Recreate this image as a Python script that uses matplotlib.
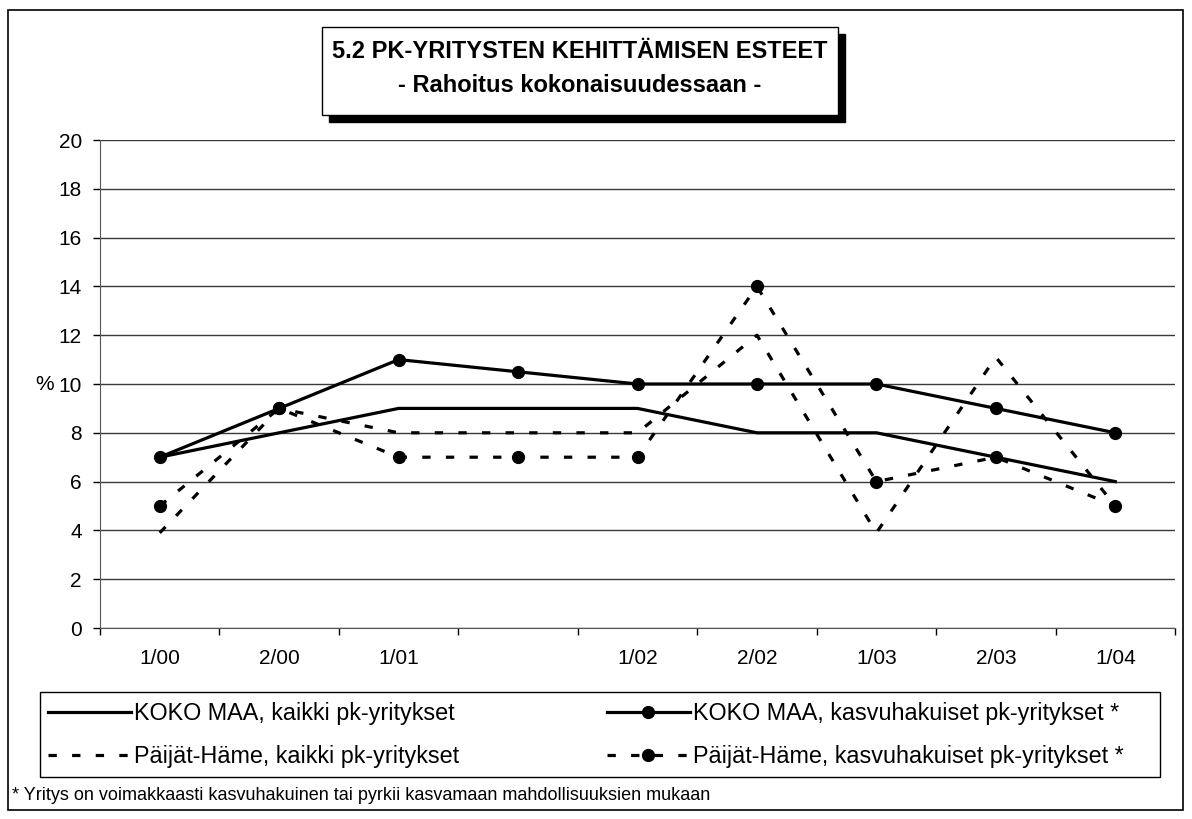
import matplotlib
matplotlib.use("Agg")
import matplotlib.pyplot as plt
from matplotlib.patches import Rectangle
from matplotlib.lines import Line2D

plt.rcParams['font.family'] = ['Liberation Sans', 'DejaVu Sans']
plt.rcParams['lines.scale_dashes'] = False

# Data
periods = ['1/00', '2/00', '1/01', '', '1/02', '2/02', '1/03', '2/03', '1/04']
koko_kaikki = [7, 8, 9, 9, 9, 8, 8, 7, 6]
koko_kasvu = [7, 9, 11, 10.5, 10, 10, 10, 9, 8]
ph_kaikki = [3.9, 9, 8, 8, 8, 12, 3.9, 11.1, 5]
ph_kasvu = [5, 9, 7, 7, 7, 14, 6, 7, 5]

labels = ['KOKO MAA, kaikki pk-yritykset',
          'KOKO MAA, kasvuhakuiset pk-yritykset *',
          'Päijät-Häme, kaikki pk-yritykset',
          'Päijät-Häme, kasvuhakuiset pk-yritykset *']

W, H = 1192, 819
fig = plt.figure(figsize=(W / 100, H / 100), dpi=100)

def fx(px):
    return px / W

def fy(py):
    return 1 - py / H

ax = fig.add_axes([fx(100), fy(628), fx(1175) - fx(100), fy(140) - fy(628)])

x = list(range(len(periods)))
dash = (6, 11)
lw = 2.3
ms = 8.5

ax.plot(x, koko_kaikki, color='black', lw=lw)
ax.plot(x, koko_kasvu, color='black', lw=lw, marker='o', ms=ms)
ax.plot(x, ph_kaikki, color='black', lw=lw, dashes=dash)
ax.plot(x, ph_kasvu, color='black', lw=lw, dashes=dash, marker='o', ms=ms)

ax.set_xlim(-0.5, len(periods) - 0.5)
ax.set_ylim(0, 20)
ax.set_yticks(range(0, 21, 2))
ax.set_xticks(x)
ax.set_xticklabels(periods)
ax.set_xticks([i - 0.5 for i in range(len(periods) + 1)], minor=True)
ax.tick_params(axis='x', which='major', length=0, pad=15, labelsize=15)
ax.tick_params(axis='x', which='minor', length=5, direction='out', width=1)
ax.tick_params(axis='y', length=5, direction='out', width=1, pad=8, labelsize=15)
ax.grid(axis='y', color='#3a3a3a', lw=1)
ax.set_axisbelow(True)
for s in ('top', 'right'):
    ax.spines[s].set_visible(False)
ax.spines['left'].set_color('#555555')
ax.spines['bottom'].set_color('#555555')
fig.text(fx(45), fy(384), '%', ha='center', va='center', fontsize=15)

# outer border
fig.patches.append(Rectangle((fx(8), fy(810)), fx(1183) - fx(8), fy(10) - fy(810),
                             transform=fig.transFigure, fill=False, ec='black', lw=1.2))

# title box with shadow
bx0, bx1, by0, by1 = 322, 838, 27, 115
fig.patches.append(Rectangle((fx(bx0 + 7), fy(by1 + 7)), fx(bx1) - fx(bx0), fy(by0) - fy(by1),
                             transform=fig.transFigure, fc='black', ec='black', lw=1))
fig.patches.append(Rectangle((fx(bx0), fy(by1)), fx(bx1) - fx(bx0), fy(by0) - fy(by1),
                             transform=fig.transFigure, fc='white', ec='black', lw=1))
fig.text(fx((bx0 + bx1) / 2), fy(51), '5.2 PK-YRITYSTEN KEHITTÄMISEN ESTEET',
         ha='center', va='center', fontsize=17, fontweight='bold')
fig.text(fx((bx0 + bx1) / 2), fy(86), '- Rahoitus kokonaisuudessaan -',
         ha='center', va='center', fontsize=17, fontweight='bold')

# legend: frame drawn by hand, one legend per column
fig.patches.append(Rectangle((fx(40), fy(777)), fx(1160) - fx(40), fy(692) - fy(777),
                             transform=fig.transFigure, fill=False, ec='black', lw=1))
h1 = Line2D([], [], color='black', lw=lw)
h2 = Line2D([], [], color='black', lw=lw, marker='o', ms=ms)
h3 = Line2D([], [], color='black', lw=lw, dashes=dash)
h4 = Line2D([], [], color='black', lw=lw, dashes=dash, marker='o', ms=ms)
leg_kw = dict(loc='center left', frameon=False, handlelength=3.55, handletextpad=0.12,
              fontsize=16.8, numpoints=1, borderaxespad=0, borderpad=0, labelspacing=0.85)
fig.legend([h1, h3], [labels[0], labels[2]], bbox_to_anchor=(fx(48), fy(735)), **leg_kw)
fig.legend([h2, h4], [labels[1], labels[3]], bbox_to_anchor=(fx(607), fy(735)), **leg_kw)

fig.text(fx(12), fy(795), '* Yritys on voimakkaasti kasvuhakuinen tai pyrkii kasvamaan mahdollisuuksien mukaan',
         ha='left', va='center', fontsize=13)

fig.savefig('out.png', dpi=100)
